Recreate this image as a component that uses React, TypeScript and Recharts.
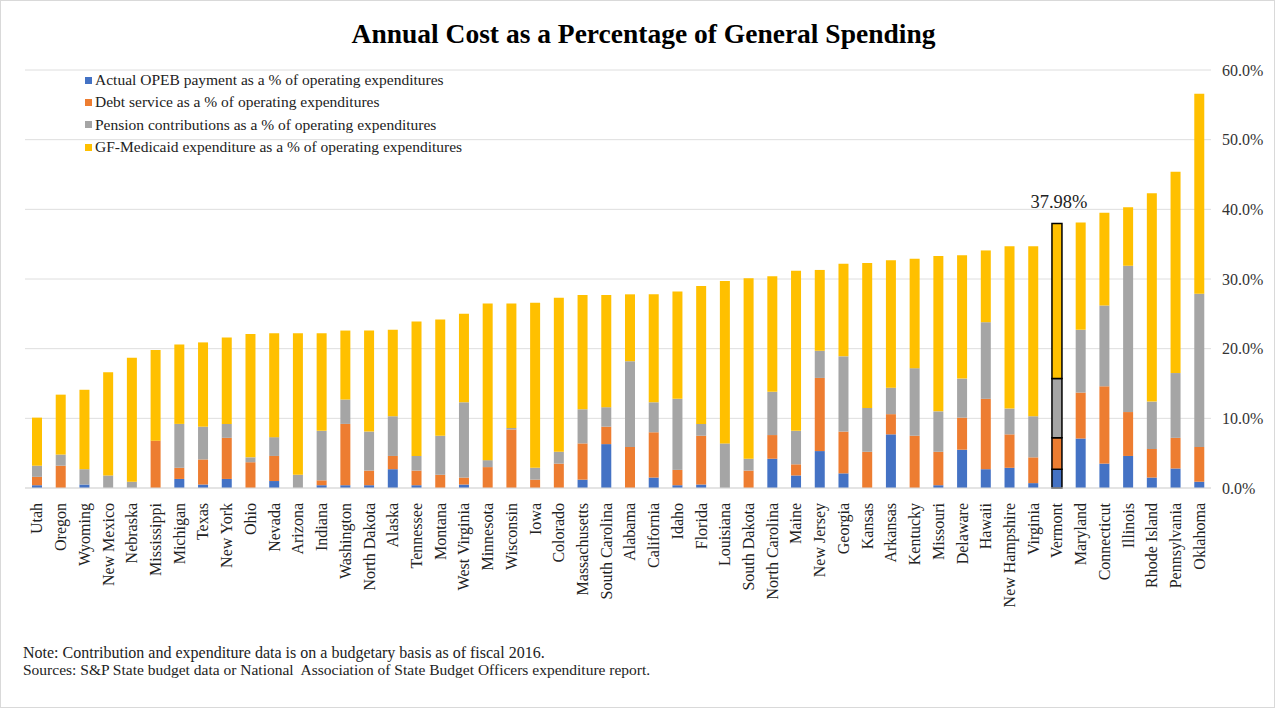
import { BarChart, Bar, XAxis, YAxis, CartesianGrid, Legend, Cell, LabelList } from 'recharts';

const states = [
  'Utah', 'Oregon', 'Wyoming', 'New Mexico', 'Nebraska', 'Mississippi', 'Michigan', 'Texas', 'New York', 'Ohio',
  'Nevada', 'Arizona', 'Indiana', 'Washington', 'North Dakota', 'Alaska', 'Tennessee', 'Montana', 'West Virginia', 'Minnesota',
  'Wisconsin', 'Iowa', 'Colorado', 'Massachusetts', 'South Carolina', 'Alabama', 'California', 'Idaho', 'Florida', 'Louisiana',
  'South Dakota', 'North Carolina', 'Maine', 'New Jersey', 'Georgia', 'Kansas', 'Arkansas', 'Kentucky', 'Missouri', 'Delaware',
  'Hawaii', 'New Hampshire', 'Virginia', 'Vermont', 'Maryland', 'Connecticut', 'Illinois', 'Rhode Island', 'Pennsylvania', 'Oklahoma',
];

// values in % of operating expenditures
const opeb = [
  0.4, 0, 0.5, 0, 0, 0, 1.3, 0.5, 1.3, 0,
  1.0, 0, 0.4, 0.4, 0.4, 2.7, 0.4, 0, 0.5, 0,
  0, 0, 0, 1.2, 6.3, 0, 1.5, 0.4, 0.5, 0,
  0, 4.2, 1.8, 5.3, 2.1, 0, 7.7, 0, 0.4, 5.5,
  2.7, 2.9, 0.7, 2.7, 7.1, 3.5, 4.6, 1.5, 2.8, 0.9,
];
const debt = [
  1.2, 3.2, 0, 0, 0, 6.8, 1.6, 3.6, 5.9, 3.7,
  3.6, 0, 0.7, 8.8, 2.1, 1.9, 2.1, 1.9, 1.0, 3.0,
  8.4, 1.2, 3.5, 5.2, 2.5, 5.9, 6.5, 2.2, 7.0, 0,
  2.5, 3.4, 1.6, 10.5, 6.0, 5.2, 2.9, 7.5, 4.8, 4.6,
  10.1, 4.8, 3.7, 4.5, 6.6, 11.1, 6.3, 4.1, 4.4, 5.0,
];
const pension = [
  1.6, 1.6, 2.2, 1.8, 0.9, 0, 6.3, 4.7, 2.0, 0.7,
  2.7, 1.9, 7.1, 3.5, 5.6, 5.7, 2.1, 5.6, 10.8, 1.0,
  0.2, 1.7, 1.7, 4.9, 2.8, 12.3, 4.3, 10.2, 1.7, 6.4,
  1.7, 6.2, 4.8, 3.9, 10.8, 6.3, 3.8, 9.7, 5.8, 5.6,
  11.0, 3.7, 5.9, 8.5, 9.0, 11.6, 21.0, 6.8, 9.3, 22.0,
];
const medicaid = [
  6.9, 8.6, 11.4, 14.8, 17.8, 13.0, 11.4, 12.1, 12.4, 17.7,
  14.9, 20.3, 14.0, 9.9, 14.5, 12.4, 19.3, 16.7, 12.7, 22.5,
  17.9, 23.7, 22.1, 16.4, 16.1, 9.6, 15.5, 15.4, 19.8, 23.3,
  25.9, 16.6, 23.0, 11.6, 13.3, 20.8, 18.3, 15.7, 22.3, 17.7,
  10.3, 23.3, 24.4, 22.28, 15.4, 13.3, 8.4, 29.9, 28.9, 28.7,
];

const yTicks = [0, 10, 20, 30, 40, 50, 60];
const highlight = 'Vermont';

const series = [
  { key: 'opeb', name: 'Actual OPEB payment as a % of operating expenditures', color: '#4472C4' },
  { key: 'debt', name: 'Debt service as a % of operating expenditures', color: '#ED7D31' },
  { key: 'pension', name: 'Pension contributions as a % of operating expenditures', color: '#A5A5A5' },
  { key: 'medicaid', name: 'GF-Medicaid expenditure as a % of operating expenditures', color: '#FFC000' },
];

const data = states.map((state, i) => ({
  state,
  opeb: opeb[i],
  debt: debt[i],
  pension: pension[i],
  medicaid: medicaid[i],
  total: opeb[i] + debt[i] + pension[i] + medicaid[i],
}));

const serif = "'Liberation Serif', 'Times New Roman', serif";

const StateTick = ({ x, y, payload }: any) => (
  <text
    x={x}
    y={y + 7}
    transform={`rotate(-90 ${x} ${y + 7})`}
    textAnchor="end"
    dy="0.35em"
    fontSize={16}
    fontFamily={serif}
    fill="#222"
  >
    {payload.value}
  </text>
);

const LegendBox = ({ payload }: any) => {
  const items = [...(payload || [])].sort(
    (a: any, b: any) => series.findIndex((s) => s.name === a.value) - series.findIndex((s) => s.name === b.value)
  );
  return (
    <div style={{ fontFamily: serif, fontSize: 15.5, color: '#222' }}>
      {items.map((p: any) => (
        <div key={p.value} style={{ display: 'flex', alignItems: 'center', height: 22.3 }}>
          <span style={{ width: 7, height: 7, background: p.color, marginRight: 3, display: 'inline-block' }} />
          {p.value}
        </div>
      ))}
    </div>
  );
};

const TotalLabel = (props: any) => {
  const { x, y, width, index } = props;
  const d = data[index];
  if (!d || d.state !== highlight) return null;
  return (
    <text x={x + width / 2 + 2} y={y - 15} textAnchor="middle" fontSize={18.5} fontFamily={serif} fill="#222">
      {d.total.toFixed(2)}%
    </text>
  );
};

const App = () => {
  return (
    <div
      style={{
        position: 'absolute',
        left: 0,
        top: 0,
        width: 1275,
        height: 708,
        background: '#fff',
        boxSizing: 'border-box',
        border: '1px solid #d9d9d9',
        fontFamily: serif,
      }}
    >
      <div
        style={{
          position: 'absolute',
          top: 17,
          left: 5,
          width: 1275,
          textAlign: 'center',
          fontSize: 27.5,
          fontWeight: 'bold',
          color: '#000',
        }}
      >
        Annual Cost as a Percentage of General Spending
      </div>
      <div style={{ position: 'absolute', left: -1, top: -1 }}>
        <BarChart width={1275} height={618} data={data} margin={{ top: 70, right: 9, left: 25, bottom: 0 }} barSize={10}>
          <CartesianGrid vertical={false} stroke="#dedede" />
          <XAxis
            dataKey="state"
            interval={0}
            height={130}
            tick={<StateTick />}
            tickLine={false}
            axisLine={{ stroke: '#d9d9d9' }}
          />
          <YAxis
            orientation="right"
            domain={[0, 60]}
            ticks={yTicks}
            tickFormatter={(v: number) => `${v.toFixed(1)}%`}
            width={55}
            tickSize={0}
            tickMargin={11}
            tickLine={false}
            axisLine={false}
            tick={{ fontSize: 16, fontFamily: serif, fill: '#333' }}
          />
          <Legend
            layout="vertical"
            align="center"
            verticalAlign="middle"
            content={<LegendBox />}
            wrapperStyle={{ left: 85, top: 69, width: 'auto' }}
          />
          {series.map((s, si) => (
            <Bar key={s.key} dataKey={s.key} name={s.name} stackId="a" fill={s.color} isAnimationActive={false}>
              {data.map((d) => (
                <Cell
                  key={d.state}
                  stroke={d.state === highlight ? '#000' : 'none'}
                  strokeWidth={d.state === highlight ? 1.5 : 0}
                />
              ))}
              {si === series.length - 1 && <LabelList dataKey="total" content={<TotalLabel />} />}
            </Bar>
          ))}
        </BarChart>
      </div>
      <div style={{ position: 'absolute', left: 22, top: 643, fontSize: 16, lineHeight: '17px', color: '#222' }}>
        <div>Note: Contribution and expenditure data is on a budgetary basis as of fiscal 2016.</div>
        <div style={{ fontSize: 15.5 }}>
          Sources: S&amp;P State budget data or National&nbsp; Association of State Budget Officers expenditure report.
        </div>
      </div>
    </div>
  );
};

export default App;
